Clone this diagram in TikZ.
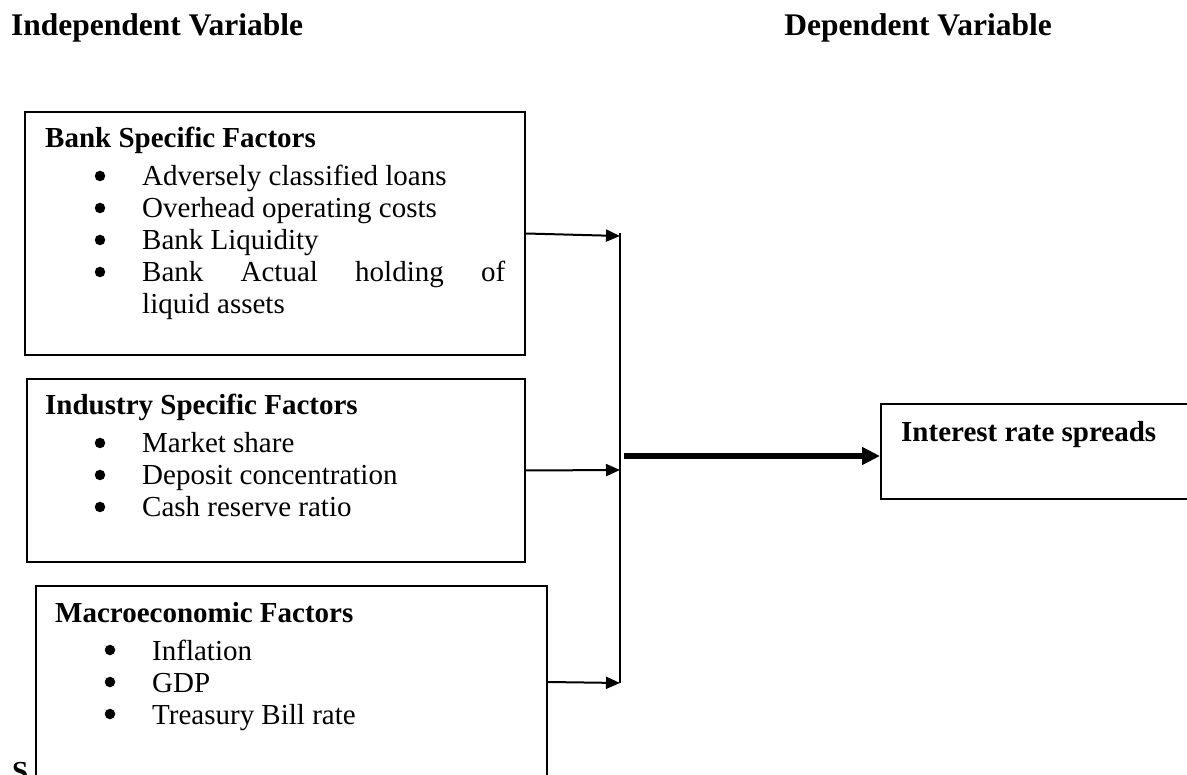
\documentclass[tikz,border=0pt]{standalone}
\usepackage{fontspec}
\setmainfont{Liberation Serif}
\usetikzlibrary{arrows.meta}
\begin{document}
\begin{tikzpicture}[x=1pt,y=-1pt,
  box/.style={draw,line width=2pt,fill=white,inner sep=0pt,anchor=north west},
  body/.style={anchor=base west,inner sep=0pt,font=\fontsize{29}{32}\selectfont},
  hdr/.style={anchor=base west,inner sep=0pt,font=\fontsize{29}{32}\selectfont\bfseries},
  title/.style={inner sep=0pt,font=\fontsize{31.5}{36}\selectfont\bfseries},
  bul/.style={circle,fill=black,inner sep=0pt,minimum size=10.5pt},
  conn/.style={line width=2pt,-{Triangle[length=14pt,width=12pt]}},
  bigconn/.style={line width=6pt,-{Triangle[length=18pt,width=17pt]}}
]
\useasboundingbox (0,0) rectangle (1187,775);

% titles
\node[title,anchor=base west] (tind) at (11,36) {Independent Variable};
\node[title,anchor=base east] (tdep) at (1052,36) {Dependent Variable};

% caption start, mostly hidden behind the third box
\node[hdr] (src) at (12,781) {S};

% box 1
\node[box,minimum width=500pt,minimum height=243pt] (b1) at (24,111) {};
\node[hdr] (h1) at (45,148) {Bank Specific Factors};
\node[bul] (p11) at (100,176) {};
\node[body] (t11) at (142,186) {Adversely classified loans};
\node[bul] (p12) at (100,208) {};
\node[body] (t12) at (142,218) {Overhead operating costs};
\node[bul] (p13) at (100,240) {};
\node[body] (t13) at (142,250) {Bank Liquidity};
\node[bul] (p14) at (100,272) {};
\node[body] (t14) at (142,282) {\hbox to 363pt{Bank\hfill Actual\hfill holding\hfill of}};
\node[body] (t15) at (142,314) {liquid assets};

% box 2
\node[box,minimum width=498pt,minimum height=183pt] (b2) at (26,378) {};
\node[hdr] (h2) at (45,415) {Industry Specific Factors};
\node[bul] (p21) at (100,443) {};
\node[body] (t21) at (142,453) {Market share};
\node[bul] (p22) at (100,475) {};
\node[body] (t22) at (142,485) {Deposit concentration};
\node[bul] (p23) at (100,507) {};
\node[body] (t23) at (142,517) {Cash reserve ratio};

% box 3
\node[box,minimum width=511pt,minimum height=192pt] (b3) at (35,585) {};
\node[hdr] (h3) at (55,622) {Macroeconomic Factors};
\node[bul] (p31) at (110,650) {};
\node[body] (t31) at (152,660) {Inflation};
\node[bul] (p32) at (110,682) {};
\node[body] (t32) at (152,692) {GDP};
\node[bul] (p33) at (110,714) {};
\node[body] (t33) at (152,724) {Treasury Bill rate};

% result box
\node[box,minimum width=330pt,minimum height=95pt] (r) at (880,403) {};
\node[hdr] (rt) at (901,442) {Interest rate spreads};

% connectors
\coordinate (v1) at (620,236);
\coordinate (v2) at (620,470);
\coordinate (v3) at (620,683);
\coordinate (vtop) at (620,233);
\coordinate (hs) at (624,456);
\draw[line width=2pt] (vtop) -- (v3);
\draw[conn] (b1.east) -- (v1);
\draw[conn] (b2.east) -- (v2);
\draw[conn] (b3.east) -- (v3);
\draw[bigconn] (hs) -- (r.west |- hs);
\end{tikzpicture}
\end{document}
